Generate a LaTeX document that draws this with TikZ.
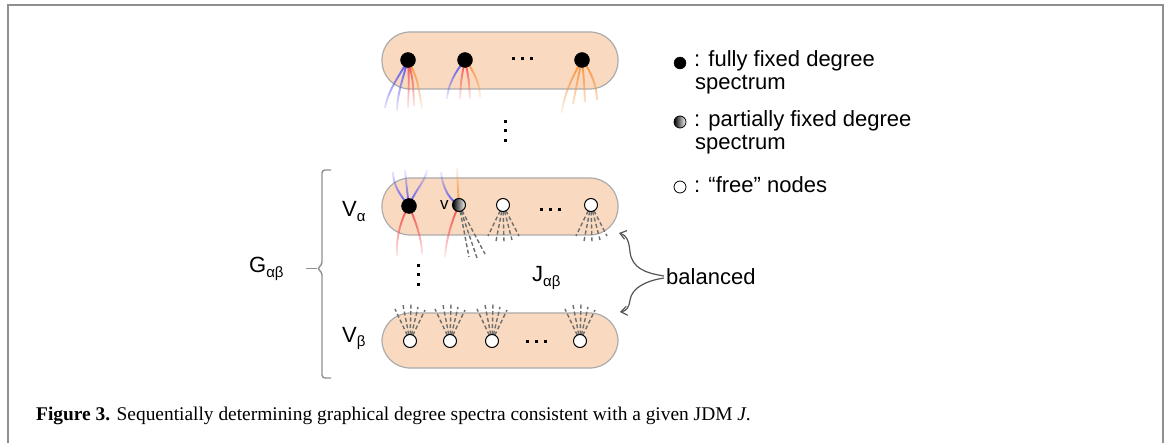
\documentclass[tikz,border=0pt]{standalone}
\usepackage{fontspec}
\setmainfont{Liberation Sans}
\newfontfamily\capfont{Liberation Serif}
\usetikzlibrary{arrows.meta,fadings}
\definecolor{peach}{HTML}{F9DAC0}
\definecolor{pillgray}{HTML}{ABABAB}
\definecolor{eblue}{HTML}{5050F5}
\definecolor{ered}{HTML}{F54A4A}
\definecolor{eorange}{HTML}{F8923A}
\definecolor{dashgray}{HTML}{6E6E6E}
\definecolor{framegray}{HTML}{8F8F8F}
\definecolor{arrgray}{HTML}{555555}
\tikzfading[name=edgefadeS, top color=transparent!0, middle color=transparent!20, bottom color=transparent!92]
\tikzfading[name=edgefadeN, bottom color=transparent!0, middle color=transparent!20, top color=transparent!92]
\newcommand{\sbsc}[1]{\raisebox{-0.35ex}{\fontsize{15}{15}\selectfont #1}}
\begin{document}
\begin{tikzpicture}[x=1pt,y=-1pt,
  pill/.style={draw=pillgray, fill=peach, line width=1.2pt, rounded corners=28pt, minimum width=236pt, inner sep=0pt},
  fixednode/.style={circle, fill=black, draw=black, minimum size=15pt, inner sep=0pt},
  halfnode/.style={circle, left color=black, right color=white, draw=black, line width=1pt, minimum size=13pt, inner sep=0pt},
  freenode/.style={circle, fill=white, draw=black, line width=1pt, minimum size=13pt, inner sep=0pt},
  lfixed/.style={circle, fill=black, draw=black, minimum size=12pt, inner sep=0pt},
  lhalf/.style={circle, left color=black, right color=white, draw=black, line width=0.8pt, minimum size=12pt, inner sep=0pt},
  lfree/.style={circle, fill=white, draw=black, line width=0.8pt, minimum size=12pt, inner sep=0pt},
  eedge/.style={line width=1.9pt},
  fs/.style={path fading=edgefadeS},
  fn/.style={path fading=edgefadeN},
  dedge/.style={dashgray, line width=1.4pt, dash pattern=on 4pt off 2.5pt},
  dotsq/.style={rectangle, fill=black, minimum size=3pt, inner sep=0pt},
  lab/.style={font=\fontsize{22}{26}\selectfont, inner sep=0pt, anchor=base west},
  brace/.style={framegray, line width=1.4pt},
  arr/.style={arrgray, line width=1.2pt, -{Straight Barb[length=6pt,width=9pt]}}
]
\useasboundingbox (0,0) rectangle (1169,443);
% frame
\draw[framegray, line width=2pt] (8,443) -- (8,5) -- (1163,5) -- (1163,443);

% pills
\node[pill, minimum height=57pt] (PT) at (500,60.5) {};
\node[pill, minimum height=57pt] (PA) at (500,206.5) {};
\node[pill, minimum height=55pt] (PB) at (500,340.5) {};

% node positions
\coordinate (ct1) at (408,60);
\coordinate (ct2) at (465,60);
\coordinate (ct3) at (582,60);
\coordinate (cm1) at (409,206);
\coordinate (cm2) at (459,205);
\coordinate (cm3) at (503,205);
\coordinate (cm4) at (591,205);
\coordinate (cb1) at (410,341);
\coordinate (cb2) at (450,341);
\coordinate (cb3) at (492,341);
\coordinate (cb4) at (580,341);

% top pill edges
\draw[eedge, eblue, fs] (ct1) .. controls (400,75) and (388,90) .. (385,108)
   (ct1) .. controls (403,78) and (397,95) .. (397,111);
\draw[eedge, ered, fs] (ct1) .. controls (409,80) .. (408,108)
   (ct1) .. controls (413,80) .. (414,106);
\draw[eedge, eorange, fs] (ct1) .. controls (417,78) .. (422,108);

\draw[eedge, eblue, fs] (ct2) .. controls (455,72) and (448,85) .. (447,99);
\draw[eedge, ered, fs] (ct2) .. controls (461,80) .. (460,99)
   (ct2) .. controls (469,80) .. (470,99);
\draw[eedge, eorange, fs] (ct2) .. controls (475,72) and (480,85) .. (480,98);

\draw[eedge, eorange, fs] (ct3) .. controls (575,72) and (563,95) .. (562,113)
   (ct3) .. controls (578,78) .. (573,104)
   (ct3) .. controls (584,80) .. (585,102)
   (ct3) .. controls (592,72) and (597,88) .. (597,100);

% middle pill edges
\draw[eedge, eblue, fn] (cm1) .. controls (400,195) and (393,185) .. (393,172)
   (cm1) .. controls (407,190) .. (405,170)
   (cm1) .. controls (415,190) and (425,182) .. (427,170);
\draw[eedge, ered, fs] (cm1) .. controls (400,220) and (396,240) .. (397,256)
   (cm1) .. controls (416,222) and (422,240) .. (422,254);

\draw[eedge, eblue, fn] (cm2) .. controls (450,200) and (443,190) .. (441,172);
\draw[eedge, eorange, fn] (cm2) .. controls (458,190) .. (457,168);
\draw[eedge, ered, fs] (cm2) .. controls (452,220) and (446,240) .. (445,257);

\foreach \dx/\dy in {10/52, 18/53, 26/49} \draw[dedge] (cm2) -- ++(\dx,\dy);
\foreach \c in {cm3, cm4}
  \foreach \dx/\dy in {-15/31, -7/36, 1/37, 9/35, 16/31} \draw[dedge] (\c) -- ++(\dx,\dy);

% bottom pill edges
\foreach \c in {cb1, cb2, cb3, cb4}
  \foreach \dx/\dy in {-15/-32, -7/-36, 1/-37, 8/-34, 15/-31} \draw[dedge] (\c) -- ++(\dx,\dy);

% nodes
\node[fixednode] (t1) at (ct1) {};
\node[fixednode] (t2) at (ct2) {};
\node[fixednode] (t3) at (ct3) {};
\node[fixednode] (m1) at (cm1) {};
\node[halfnode] (m2) at (cm2) {};
\node[freenode] (m3) at (cm3) {};
\node[freenode] (m4) at (cm4) {};
\node[freenode] (b1) at (cb1) {};
\node[freenode] (b2) at (cb2) {};
\node[freenode] (b3) at (cb3) {};
\node[freenode] (b4) at (cb4) {};

% dots
\foreach \x [count=\i] in {513,522,531} \node[dotsq] (dt\i) at (\x,59) {};
\foreach \x [count=\i] in {541,550,559} \node[dotsq] (dm\i) at (\x,210) {};
\foreach \x [count=\i] in {527,536,545} \node[dotsq] (db\i) at (\x,341) {};
\foreach \y [count=\i] in {122,131,141} \node[dotsq] (vt\i) at (505,\y) {};
\foreach \y [count=\i] in {266,275,285} \node[dotsq] (vm\i) at (418,\y) {};

% labels
\node[lab, font=\fontsize{17}{20}\selectfont] (vlab) at (440,210) {v};
\node[lab] (Va) at (342,217) {V\sbsc{α}};
\node[lab] (Vb) at (342,342) {V\sbsc{β}};
\node[lab] (G) at (249,273) {G\sbsc{αβ}};
\node[lab] (J) at (532,282) {J\sbsc{αβ}};
\node[lab] (bal) at (666,285) {balanced};

% brace
\draw[brace, rounded corners=3pt] (331,170) -- (322,170) -- (322,265) -- (317,268.5) -- (322,272) -- (322,378) -- (331,378);
\coordinate (btip) at (317,268.5);
\draw[brace] (306,268.5) -- (btip);

% balanced arrows
\coordinate (bs1) at (664,276);
\coordinate (bs2) at (664,278);
\coordinate (ba1) at (619,233);
\coordinate (ba2) at (620,312);
\draw[arr] (bs1) .. controls (645,273) and (632,268) .. (630,252) .. controls (629,240) and (626,235) .. (ba1);
\draw[arr] (bs2) .. controls (645,281) and (632,288) .. (630,300) .. controls (629,308) and (626,311) .. (ba2);

% legend
\node[lfixed] (L1) at (680,63) {};
\node[lhalf] (L2) at (680,122) {};
\node[lfree] (L3) at (680,187) {};
\node[lab] (L1a) at (694,67) {: fully fixed degree};
\node[lab] (L1b) at (695,90) {spectrum};
\node[lab] (L2a) at (694,127) {: partially fixed degree};
\node[lab] (L2b) at (695,150) {spectrum};
\node[lab] (L3a) at (694,193) {: “free” nodes};

% caption
\node[anchor=base west, inner sep=0pt, font=\capfont\fontsize{19.4}{22}\selectfont] (cap) at (36,420)
  {\textbf{Figure 3.} Sequentially determining graphical degree spectra consistent with a given JDM \textit{J}.};
\end{tikzpicture}
\end{document}
